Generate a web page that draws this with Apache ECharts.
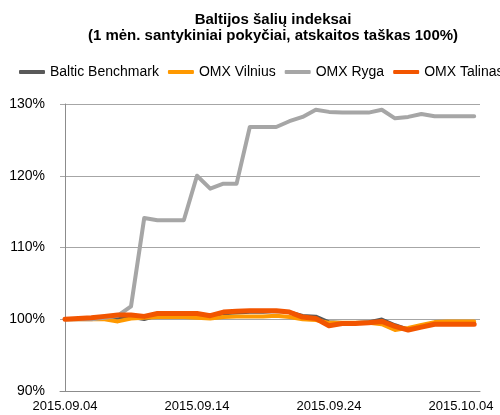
<!DOCTYPE html>
<html>
<head>
<meta charset="utf-8">
<script src="https://cdn.jsdelivr.net/npm/echarts@6/dist/echarts.min.js"></script>
<style>
  html, body { margin: 0; padding: 0; background: #fff; }
  #chart { width: 500px; height: 415px; }
</style>
</head>
<body>
<div id="chart"></div>
<script>
// kalendorinės dienos nuo 2015.09.04 iki 2015.10.05
const dates = [
  '2015.09.04', '2015.09.05', '2015.09.06', '2015.09.07', '2015.09.08', '2015.09.09',
  '2015.09.10', '2015.09.11', '2015.09.12', '2015.09.13', '2015.09.14', '2015.09.15',
  '2015.09.16', '2015.09.17', '2015.09.18', '2015.09.19', '2015.09.20', '2015.09.21',
  '2015.09.22', '2015.09.23', '2015.09.24', '2015.09.25', '2015.09.26', '2015.09.27',
  '2015.09.28', '2015.09.29', '2015.09.30', '2015.10.01', '2015.10.02', '2015.10.03',
  '2015.10.04', '2015.10.05'
]
const dateTicks = [0, 10, 20, 30]
const yTicks = [90, 100, 110, 120, 130]

const balticBenchmark = [
  100.0, 100.0, 100.0, 100.1, 100.2, 100.3, 100.0, 100.5, 100.6, 100.6, 100.6, 100.4,
  100.8, 100.9, 101.0, 101.0, 101.1, 101.0, 100.5, 100.4, 99.6, 99.5, 99.5, 99.6,
  100.0, 99.2, 98.6, 99.0, 99.3, 99.4, 99.4, 99.4
]
const omxVilnius = [
  100.0, 100.0, 100.0, 100.0, 99.7, 100.1, 100.2, 100.3, 100.3, 100.3, 100.2, 100.1,
  100.3, 100.4, 100.4, 100.4, 100.5, 100.3, 100.0, 99.9, 99.5, 99.5, 99.5, 99.5,
  99.3, 98.5, 98.8, 99.2, 99.6, 99.7, 99.7, 99.7
]
const omxRyga = [
  100.0, 100.0, 100.0, 100.2, 100.5, 101.8, 114.1, 113.8, 113.8, 113.8, 120.0, 118.2,
  118.9, 118.9, 126.8, 126.8, 126.8, 127.6, 128.2, 129.2, 128.9, 128.8, 128.8, 128.8,
  129.2, 128.0, 128.2, 128.6, 128.3, 128.3, 128.3, 128.3
]
const omxTalinas = [
  100.0, 100.1, 100.2, 100.4, 100.6, 100.6, 100.4, 100.8, 100.8, 100.8, 100.8, 100.5,
  101.0, 101.1, 101.2, 101.2, 101.2, 101.0, 100.3, 100.1, 99.1, 99.4, 99.4, 99.5,
  99.7, 99.0, 98.5, 98.9, 99.3, 99.3, 99.3, 99.3
]

function toPairs(values) {
  return values.map((v, i) => [i, v])
}

function makeSeries(name, values, color, width) {
  return {
    name: name,
    type: 'line',
    data: toPairs(values),
    showSymbol: false,
    symbol: 'none',
    lineStyle: { color: color, width: width, cap: 'round', join: 'round' },
    itemStyle: { color: color }
  }
}

const font = 'Liberation Sans, Arial, sans-serif'
const chart = echarts.init(document.getElementById('chart'))

chart.setOption({
  animation: false,
  textStyle: { fontFamily: font },
  title: {
    text: 'Baltijos šalių indeksai\n(1 mėn. santykiniai pokyčiai, atskaitos taškas 100%)',
    left: 273,
    top: 12,
    padding: 0,
    textAlign: 'center',
    textStyle: {
      fontSize: 15,
      fontWeight: 'bold',
      lineHeight: 16,
      color: '#000',
      fontFamily: font
    }
  },
  legend: {
    left: 19,
    top: 65,
    width: 800,
    padding: 0,
    itemGap: 9,
    itemWidth: 26,
    itemHeight: 4,
    icon: 'roundRect',
    textStyle: { fontSize: 14, color: '#000', fontFamily: font },
    data: ['Baltic Benchmark', 'OMX Vilnius', 'OMX Ryga', 'OMX Talinas']
  },
  grid: {
    left: 60,
    right: 20,
    top: 104,
    bottom: 24,
    containLabel: false
  },
  xAxis: {
    type: 'value',
    min: -0.38,
    max: 31.44,
    splitLine: { show: false },
    axisLine: { show: true, onZero: false, lineStyle: { color: '#8c8c8c', width: 1 } },
    axisTick: { show: false },
    axisLabel: {
      customValues: dateTicks,
      formatter: v => dates[v],
      fontSize: 13,
      color: '#000',
      margin: 9
    }
  },
  yAxis: {
    type: 'value',
    min: yTicks[0],
    max: yTicks[yTicks.length - 1],
    interval: 10,
    axisLine: { show: true, lineStyle: { color: '#8c8c8c', width: 1 } },
    axisTick: { show: false },
    splitLine: { show: true, lineStyle: { color: '#a6a6a6', width: 1 } },
    axisLabel: {
      formatter: v => v + '%',
      fontSize: 14,
      color: '#000',
      margin: 15
    }
  },
  series: [
    makeSeries('Baltic Benchmark', balticBenchmark, '#595959', 3.5),
    makeSeries('OMX Vilnius', omxVilnius, '#ff9900', 4),
    makeSeries('OMX Ryga', omxRyga, '#a6a6a6', 4),
    makeSeries('OMX Talinas', omxTalinas, '#f25500', 5)
  ]
})
</script>
</body>
</html>
